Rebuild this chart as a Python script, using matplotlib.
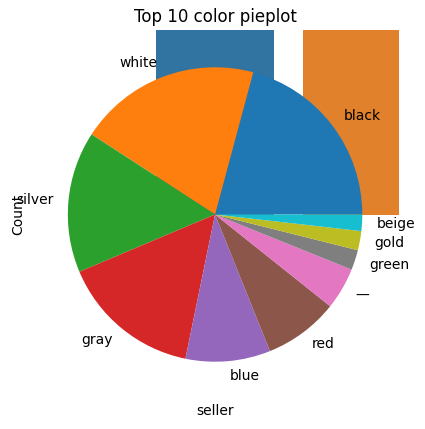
import matplotlib
matplotlib.use("Agg")
import matplotlib.pyplot as plt

# seller counts (bars sit behind the pie, only their lower part is visible)
sellers = ["Dealer", "Individual"]
seller_counts = [2900, 1400]

# top 10 car colors
colors = ["black", "white", "silver", "gray", "blue", "red", "—", "green", "gold", "beige"]
color_counts = [208, 200, 155, 154, 93, 82, 46, 22, 21, 18]

fig = plt.figure(figsize=(4.25, 4.29), dpi=100)
ax = fig.add_axes([0.073, 0.071, 0.866, 0.858])

# countplot of seller
ax.bar(range(len(sellers)), seller_counts, width=0.8, color=["#3274a1", "#e1812c"])
ax.set_xlabel("seller")
ax.set_ylabel("Count")

# pie drawn on the same axes
ax.pie(color_counts, labels=colors)
ax.set_title("Top 10 color pieplot")

plt.savefig("out.png", dpi=100)
